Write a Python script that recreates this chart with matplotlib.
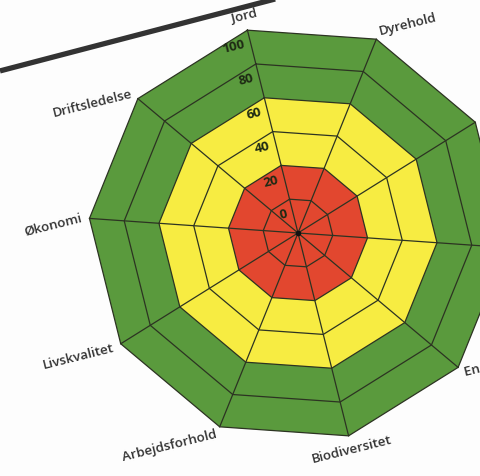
import numpy as np
import matplotlib
matplotlib.use("Agg")
import matplotlib.pyplot as plt
from matplotlib.lines import Line2D

# ---- data ----
categories = ["Jord", "Dyrehold", "Materialer og miljø", "Vand", "Energi og klima",
              "Biodiversitet", "Arbejdsforhold", "Livskvalitet", "Økonomi", "Driftsledelse"]
ring_values = [0, 20, 40, 60, 80, 100]
tick_labels = ["0", "20", "40", "60", "80", "100"]
band_limits = [20, 60, 100]          # red up to 20, yellow up to 60, green up to 100
band_colors = ["#e2472f", "#f7ec42", "#5a9a3d"]
r_min = -20                           # value at the centre of the web
rotation_deg = 14                     # the whole chart is tilted

# ---- figure ----
W, H = 480, 476
fig = plt.figure(figsize=(W / 100, H / 100), dpi=100)
bg = "#fdfdfd"
fig.patch.set_facecolor(bg)
ax = fig.add_axes([0, 0, 1, 1])
ax.set_facecolor(bg)
k = 1.742                             # pixels per value unit
cx, cy = 298, 243                     # centre in pixels from bottom-left
ax.set_xlim(-cx / k, (W - cx) / k)
ax.set_ylim(-cy / k, (H - cy) / k)
ax.axis("off")

n = len(categories)
theta = np.deg2rad(90 + rotation_deg - 360.0 / n * np.arange(n))
grid = "#2c3322"
txt = "#333333"


def poly(v):
    r = v - r_min
    x = r * np.cos(theta)
    y = r * np.sin(theta)
    return np.append(x, x[0]), np.append(y, y[0])


# colour bands
for lim, col in sorted(zip(band_limits, band_colors), reverse=True):
    x, y = poly(lim)
    ax.fill(x, y, color=col, lw=0, zorder=1)

# rings
for v in ring_values:
    x, y = poly(v)
    ax.plot(x, y, color=grid, lw=0.9, zorder=2, solid_joinstyle="miter")

# spokes
R = max(ring_values) - r_min
for t in theta:
    ax.plot([0, R * np.cos(t)], [0, R * np.sin(t)], color=grid, lw=0.9, zorder=2)
ax.plot([0], [0], "o", ms=3, color="#111111", zorder=3)

# radial tick labels along the first axis
t0 = theta[0]
u = np.array([np.cos(t0), np.sin(t0)])
nv = np.array([np.cos(t0 + np.pi / 2), np.sin(t0 + np.pi / 2)])
for v, lab in zip(ring_values, tick_labels):
    p = (v - r_min - 7.5) * u + 3.5 * nv
    ax.text(p[0], p[1], lab, rotation=rotation_deg, rotation_mode="anchor",
            ha="right", va="center", fontsize=9.5, fontweight="bold",
            family=["Open Sans", "DejaVu Sans"], color="#1e2a14", zorder=4)

# category labels
pad = 4.5
for i, (t, lab) in enumerate(zip(theta, categories)):
    a = np.deg2rad(90 - 360.0 / n * i)       # angle in the untilted frame
    c, s = np.cos(a), np.sin(a)
    if c > 0.35:
        ha = "left"
    elif c < -0.2:
        ha = "right"
    else:
        ha = "center"
    if s > 0.9:
        va = "bottom"
    elif s < -0.9 and ha == "center":
        va = "top"
    else:
        va = "center"
    p = (R + pad) * np.array([np.cos(t), np.sin(t)])
    ax.text(p[0], p[1], lab, rotation=rotation_deg, rotation_mode="anchor",
            ha=ha, va=va, fontsize=9.6, fontweight="semibold",
            family=["Open Sans", "DejaVu Sans"], color=txt, zorder=4)

# dark page edge across the top-left corner
ax.add_line(Line2D([0, 0.66], [0.851, 1.025], transform=ax.transAxes,
                   color="#333333", lw=3.8, solid_capstyle="butt", zorder=5))

fig.savefig("out.png", dpi=100, facecolor=bg)
